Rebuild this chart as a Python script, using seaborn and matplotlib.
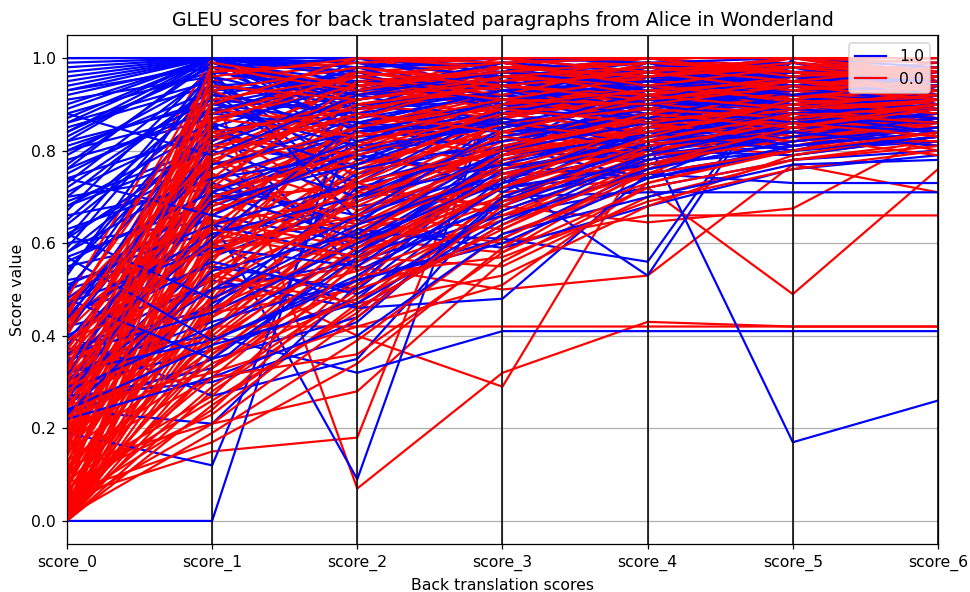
import pandas as pd
import matplotlib
matplotlib.use("Agg")
import matplotlib.pyplot as plt
import seaborn as sns
from matplotlib.lines import Line2D

score_names = ["score_0", "score_1", "score_2", "score_3", "score_4", "score_5", "score_6"]
class_labels = ["1.0", "0.0"]
class_colors = {"1.0": "blue", "0.0": "red"}

# class 1.0 paragraphs (score_0 .. score_6)
blue_scores = [
    (1.00, 1.00, 1.00, 0.97, 0.96, 0.98, 0.97),
    (1.00, 1.00, 0.96, 0.99, 1.00, 0.97, 0.98),
    (0.93, 1.00, 0.91, 0.95, 0.92, 0.96, 0.94),
    (0.92, 0.99, 0.97, 0.88, 0.95, 0.93, 0.96),
    (0.90, 1.00, 0.86, 0.93, 0.97, 0.99, 0.95),
    (0.88, 0.97, 0.93, 0.98, 0.90, 0.94, 0.92),
    (0.86, 1.00, 0.99, 0.91, 0.88, 0.95, 0.97),
    (0.85, 0.94, 0.82, 0.87, 0.93, 0.90, 0.91),
    (0.83, 0.99, 0.95, 0.96, 0.99, 0.97, 0.93),
    (0.81, 0.91, 0.88, 0.84, 0.86, 0.92, 0.89),
    (0.79, 0.96, 0.74, 0.90, 0.94, 0.88, 0.90),
    (0.78, 0.87, 0.92, 0.95, 0.91, 0.99, 0.96),
    (0.76, 1.00, 0.80, 0.83, 0.87, 0.91, 0.88),
    (0.74, 0.84, 0.90, 0.86, 0.82, 0.87, 0.86),
    (0.72, 0.93, 0.69, 0.79, 0.85, 0.84, 0.87),
    (0.70, 0.75, 0.62, 0.61, 0.56, 1.00, 0.97),
    (0.69, 0.81, 0.77, 0.92, 0.89, 0.93, 0.91),
    (0.67, 0.98, 0.85, 0.80, 0.96, 0.86, 0.94),
    (0.66, 0.72, 0.66, 0.76, 0.80, 0.83, 0.85),
    (0.64, 0.89, 0.94, 0.97, 0.93, 0.95, 0.90),
    (0.62, 0.78, 0.58, 0.74, 0.79, 0.81, 0.84),
    (0.60, 0.65, 0.09, 0.97, 0.95, 0.96, 0.97),
    (0.59, 0.95, 0.71, 0.88, 0.84, 0.89, 0.86),
    (0.57, 0.69, 0.83, 0.85, 0.91, 0.87, 0.92),
    (0.55, 0.62, 0.68, 0.72, 0.75, 0.73, 0.73),
    (0.54, 0.86, 0.54, 0.69, 0.77, 0.80, 0.83),
    (0.52, 0.58, 0.75, 0.82, 0.88, 0.92, 0.89),
    (0.50, 0.60, 0.46, 0.48, 0.75, 0.80, 0.82),
    (0.49, 0.92, 0.97, 0.94, 0.90, 0.98, 0.95),
    (0.47, 0.66, 0.60, 0.78, 0.83, 0.85, 0.87),
    (0.45, 0.55, 0.50, 0.74, 0.53, 1.00, 0.96),
    (0.44, 0.79, 0.89, 0.91, 0.86, 0.90, 0.88),
    (0.42, 0.50, 0.56, 0.66, 0.72, 0.78, 0.80),
    (0.40, 0.27, 0.35, 0.70, 0.71, 0.71, 0.71),
    (0.39, 0.73, 0.64, 0.87, 0.92, 0.88, 0.91),
    (0.37, 0.46, 0.72, 0.80, 0.78, 0.84, 0.86),
    (0.35, 0.40, 0.32, 0.41, 0.41, 0.41, 0.41),
    (0.34, 0.68, 0.79, 0.75, 0.81, 0.86, 0.84),
    (0.32, 0.43, 0.52, 0.61, 0.76, 0.82, 0.85),
    (0.31, 0.83, 0.91, 0.96, 0.98, 0.94, 0.96),
    (0.29, 0.37, 0.48, 0.73, 0.80, 0.79, 0.83),
    (0.28, 0.57, 0.69, 0.84, 0.87, 0.90, 0.88),
    (0.26, 0.33, 0.59, 0.77, 0.74, 0.87, 0.81),
    (0.25, 0.47, 0.63, 0.59, 0.68, 0.76, 0.79),
    (0.23, 0.35, 0.44, 0.69, 0.82, 0.85, 0.89),
    (0.19, 0.12, 0.86, 0.90, 0.92, 0.95, 0.93),
    (0.24, 0.21, 0.51, 0.78, 0.84, 0.88, 0.86),
    (0.00, 0.00, 0.95, 0.93, 0.95, 0.96, 0.94),
    (0.80, 0.88, 0.85, 0.86, 0.82, 0.17, 0.26),
    (0.95, 1.00, 0.98, 1.00, 0.97, 1.00, 0.99),
    (0.97, 1.00, 0.93, 0.97, 1.00, 0.96, 0.98),
    (0.84, 1.00, 0.96, 0.93, 0.91, 0.97, 0.95),
    (0.91, 0.96, 0.89, 0.99, 0.94, 0.92, 0.96),
    (0.82, 0.90, 0.96, 0.89, 0.96, 0.98, 0.92),
    (0.68, 0.85, 0.73, 0.81, 0.74, 0.80, 0.87),
    (0.58, 0.76, 0.87, 0.92, 0.89, 0.84, 0.90),
    (0.48, 0.70, 0.81, 0.71, 0.85, 0.93, 0.94),
    (0.36, 0.52, 0.46, 0.64, 0.79, 0.83, 0.82),
    (0.30, 0.64, 0.57, 0.81, 0.88, 0.86, 0.89),
    (0.27, 0.30, 0.40, 0.62, 0.70, 0.77, 0.78),
    (0.61, 0.82, 1.00, 0.98, 0.93, 0.95, 0.96),
    (0.75, 0.91, 0.78, 0.88, 0.99, 0.91, 0.94),
    (0.43, 0.88, 0.98, 0.99, 0.96, 0.97, 0.93),
    (0.33, 0.74, 0.84, 0.90, 0.94, 0.89, 0.92),
    (0.53, 0.97, 0.92, 0.86, 0.89, 0.94, 0.90),
    (0.99, 1.00, 0.97, 0.94, 0.98, 0.99, 0.96),
    (0.96, 1.00, 0.99, 0.96, 0.93, 0.95, 0.98),
    (0.94, 1.00, 0.90, 0.92, 0.96, 0.94, 0.91),
    (0.93, 0.98, 0.94, 0.97, 0.99, 0.93, 0.95),
    (0.89, 1.00, 0.98, 0.90, 0.95, 0.97, 0.94),
    (0.87, 1.00, 0.92, 0.94, 0.89, 0.92, 0.96),
    (0.86, 0.95, 0.87, 0.97, 0.93, 0.99, 0.93),
    (0.84, 0.98, 1.00, 0.93, 0.97, 0.96, 0.97),
    (0.82, 1.00, 0.84, 0.88, 0.91, 0.94, 0.90),
    (0.80, 0.93, 0.95, 0.91, 0.94, 0.90, 0.92),
    (0.77, 0.99, 0.89, 0.95, 0.86, 0.93, 0.95),
    (0.76, 0.89, 0.81, 0.85, 0.90, 0.96, 0.91),
    (0.73, 0.97, 0.93, 0.99, 0.97, 0.94, 0.96),
    (0.71, 0.86, 0.76, 0.82, 0.88, 0.89, 0.87),
    (0.70, 0.94, 0.96, 0.90, 0.83, 0.91, 0.93),
    (0.68, 0.80, 0.70, 0.77, 0.84, 0.86, 0.88),
    (0.65, 0.92, 0.88, 0.93, 0.95, 0.98, 0.94),
    (0.63, 0.74, 0.79, 0.87, 0.81, 0.85, 0.89),
    (0.61, 0.97, 0.65, 0.80, 0.92, 0.90, 0.86),
    (0.58, 0.83, 0.91, 0.96, 0.90, 0.93, 0.95),
    (0.56, 0.71, 0.61, 0.73, 0.86, 0.84, 0.90),
    (0.54, 0.90, 0.86, 0.84, 0.93, 0.96, 0.91),
    (0.51, 0.64, 0.73, 0.89, 0.87, 0.81, 0.85),
    (0.50, 0.85, 0.95, 0.92, 0.98, 0.95, 0.97),
    (0.47, 0.59, 0.55, 0.76, 0.82, 0.88, 0.84),
    (0.46, 0.77, 0.84, 0.86, 0.80, 0.91, 0.92),
    (0.44, 0.62, 0.70, 0.83, 0.89, 0.87, 0.86),
    (0.41, 0.81, 0.93, 0.95, 0.91, 0.97, 0.94),
    (0.40, 0.56, 0.49, 0.67, 0.78, 0.83, 0.87),
    (0.38, 0.69, 0.77, 0.88, 0.94, 0.90, 0.91),
    (0.36, 0.45, 0.60, 0.74, 0.84, 0.80, 0.83),
    (0.34, 0.61, 0.86, 0.93, 0.87, 0.94, 0.92),
    (0.32, 0.39, 0.53, 0.72, 0.77, 0.85, 0.88),
    (0.30, 0.50, 0.66, 0.85, 0.90, 0.86, 0.84),
    (0.28, 0.42, 0.58, 0.79, 0.83, 0.89, 0.87),
    (0.26, 0.71, 0.82, 0.91, 0.95, 0.92, 0.95),
    (0.24, 0.38, 0.47, 0.65, 0.76, 0.82, 0.85),
    (0.23, 0.54, 0.62, 0.80, 0.86, 0.88, 0.90),
    (0.22, 0.31, 0.43, 0.70, 0.81, 0.84, 0.81),
    (0.48, 0.35, 0.57, 0.68, 0.79, 0.86, 0.89),
    (0.62, 0.48, 0.64, 0.75, 0.83, 0.88, 0.86),
    (0.57, 0.39, 0.52, 0.60, 0.74, 0.81, 0.84),
    (0.74, 0.66, 0.80, 0.86, 0.91, 0.89, 0.93),
    (0.88, 0.79, 0.92, 0.97, 0.94, 0.96, 0.95),
    (0.98, 1.00, 1.00, 1.00, 0.99, 1.00, 0.98),
]

# class 0.0 paragraphs
red_scores = [
    (0.05, 0.42, 0.42, 0.42, 0.42, 0.42, 0.42),
    (0.10, 0.94, 0.07, 0.32, 0.43, 0.42, 0.42),
    (0.08, 0.55, 0.40, 0.29, 0.81, 0.85, 0.88),
    (0.05, 0.15, 0.18, 0.97, 0.92, 0.93, 0.90),
    (0.12, 0.21, 0.28, 0.56, 0.72, 0.49, 0.76),
    (0.20, 0.60, 0.65, 0.60, 0.66, 0.66, 0.66),
    (0.15, 0.50, 0.55, 0.50, 0.53, 0.77, 0.71),
    (0.25, 0.70, 0.72, 0.68, 0.645, 0.675, 0.84),
    (0.00, 0.36, 0.58, 0.74, 0.83, 0.86, 0.89),
    (0.00, 0.52, 0.77, 0.86, 0.80, 0.91, 0.87),
    (0.00, 0.28, 0.49, 0.66, 0.79, 0.82, 0.85),
    (0.00, 0.63, 0.90, 0.95, 0.92, 0.88, 0.93),
    (0.00, 0.44, 0.61, 0.58, 0.76, 0.84, 0.81),
    (0.02, 0.71, 0.84, 0.91, 0.96, 0.93, 0.90),
    (0.03, 0.33, 0.52, 0.79, 0.85, 0.87, 0.91),
    (0.04, 0.58, 0.69, 0.83, 0.88, 0.85, 0.86),
    (0.06, 0.47, 0.82, 0.88, 0.93, 0.95, 0.92),
    (0.07, 0.26, 0.45, 0.71, 0.74, 0.80, 0.83),
    (0.09, 0.81, 0.95, 0.90, 0.97, 0.92, 0.96),
    (0.10, 0.39, 0.63, 0.76, 0.81, 0.88, 0.85),
    (0.11, 0.67, 0.74, 0.94, 0.89, 0.96, 0.93),
    (0.13, 0.31, 0.57, 0.55, 0.70, 0.78, 0.82),
    (0.14, 0.76, 0.88, 0.85, 0.91, 0.89, 0.94),
    (0.16, 0.45, 0.50, 0.81, 0.77, 0.83, 0.87),
    (0.17, 0.88, 0.97, 0.99, 0.95, 0.98, 0.95),
    (0.18, 0.54, 0.71, 0.68, 0.84, 0.90, 0.88),
    (0.19, 0.35, 0.62, 0.73, 0.87, 0.81, 0.84),
    (0.21, 0.73, 0.93, 0.87, 0.94, 0.91, 0.97),
    (0.22, 0.62, 0.56, 0.77, 0.79, 0.86, 0.80),
    (0.23, 0.48, 0.80, 0.92, 0.86, 0.94, 0.91),
    (0.24, 0.84, 0.75, 0.89, 0.98, 0.93, 0.95),
    (0.26, 0.41, 0.66, 0.63, 0.78, 0.84, 0.86),
    (0.27, 0.95, 0.99, 0.96, 0.93, 0.97, 0.94),
    (0.28, 0.66, 0.86, 0.80, 0.90, 0.87, 0.92),
    (0.29, 0.53, 0.47, 0.70, 0.82, 0.79, 0.83),
    (0.31, 0.79, 0.91, 0.97, 0.99, 0.95, 0.98),
    (0.32, 0.69, 0.60, 0.84, 0.88, 0.92, 0.89),
    (0.33, 0.57, 0.78, 0.75, 0.76, 0.88, 0.85),
    (0.35, 0.86, 0.96, 0.93, 0.91, 0.99, 0.97),
    (0.36, 0.74, 0.83, 0.90, 0.95, 0.90, 0.93),
    (0.38, 0.64, 0.70, 0.86, 0.83, 0.87, 0.90),
    (0.40, 0.92, 0.88, 0.98, 0.96, 0.94, 0.96),
    (0.42, 0.82, 0.94, 0.89, 0.92, 0.97, 0.91),
    (0.44, 0.97, 1.00, 0.95, 0.98, 0.96, 0.99),
    (0.46, 0.89, 0.85, 0.92, 0.87, 0.93, 0.92),
    (0.48, 1.00, 0.92, 0.99, 0.94, 1.00, 0.95),
    (0.01, 0.19, 0.39, 0.62, 0.73, 0.81, 0.87),
    (0.04, 0.24, 0.53, 0.57, 0.69, 0.76, 0.80),
    (0.06, 0.17, 0.34, 0.59, 0.77, 0.83, 0.79),
    (0.08, 0.23, 0.47, 0.53, 0.68, 0.79, 0.84),
    (0.02, 0.38, 0.61, 0.84, 0.80, 0.86, 0.90),
    (0.11, 0.60, 0.88, 0.82, 0.85, 0.91, 0.86),
    (0.14, 0.85, 0.67, 0.78, 0.87, 0.85, 0.88),
    (0.16, 0.93, 0.81, 0.91, 0.93, 0.90, 0.94),
    (0.19, 0.77, 0.98, 0.94, 0.90, 0.95, 0.97),
    (0.22, 0.99, 0.90, 0.87, 0.97, 0.92, 0.93),
    (0.25, 0.32, 0.42, 0.51, 0.73, 0.80, 0.86),
    (0.30, 0.46, 0.54, 0.65, 0.80, 0.85, 0.81),
    (0.34, 0.61, 0.93, 1.00, 0.95, 0.99, 0.96),
    (0.37, 0.78, 0.68, 0.82, 0.89, 0.83, 0.90),
    (0.41, 0.71, 0.87, 0.95, 0.97, 0.94, 0.92),
    (0.45, 0.83, 0.79, 0.88, 0.84, 0.89, 0.87),
    (0.03, 0.49, 0.95, 0.97, 1.00, 0.98, 0.95),
    (0.07, 0.65, 0.59, 0.72, 0.86, 0.82, 0.85),
    (0.12, 0.90, 1.00, 0.98, 0.99, 0.96, 0.97),
    (0.18, 0.41, 0.73, 0.66, 0.75, 0.87, 0.83),
    (0.21, 0.56, 0.89, 0.93, 0.91, 0.97, 0.94),
    (0.27, 0.75, 0.64, 0.79, 0.92, 0.88, 0.91),
    (0.39, 0.52, 0.76, 0.87, 0.82, 0.92, 0.89),
    (0.43, 0.68, 0.82, 0.77, 0.88, 0.86, 0.90),
    (0.00, 0.41, 0.67, 0.81, 0.86, 0.90, 0.92),
    (0.00, 0.57, 0.74, 0.90, 0.94, 0.92, 0.95),
    (0.00, 0.33, 0.55, 0.72, 0.81, 0.85, 0.88),
    (0.00, 0.69, 0.85, 0.93, 0.89, 0.96, 0.91),
    (0.00, 0.48, 0.62, 0.77, 0.88, 0.83, 0.86),
    (0.00, 0.80, 0.92, 0.97, 0.95, 0.94, 0.97),
    (0.00, 0.25, 0.46, 0.64, 0.76, 0.86, 0.84),
    (0.01, 0.61, 0.79, 0.87, 0.92, 0.89, 0.93),
    (0.02, 0.45, 0.70, 0.80, 0.84, 0.91, 0.89),
    (0.03, 0.74, 0.97, 0.93, 0.98, 0.97, 0.94),
    (0.04, 0.36, 0.58, 0.69, 0.79, 0.82, 0.87),
    (0.05, 0.66, 0.81, 0.91, 0.87, 0.93, 0.90),
    (0.06, 0.53, 0.66, 0.85, 0.90, 0.88, 0.92),
    (0.07, 0.87, 0.94, 0.98, 0.96, 0.99, 0.96),
    (0.08, 0.40, 0.64, 0.74, 0.83, 0.87, 0.85),
    (0.09, 0.59, 0.86, 0.89, 0.93, 0.91, 0.94),
    (0.10, 0.72, 0.77, 0.84, 0.91, 0.95, 0.91),
    (0.11, 0.46, 0.60, 0.70, 0.80, 0.84, 0.88),
    (0.12, 0.83, 0.91, 0.95, 0.97, 0.93, 0.98),
    (0.13, 0.55, 0.73, 0.86, 0.82, 0.89, 0.86),
    (0.14, 0.64, 0.84, 0.79, 0.88, 0.92, 0.90),
    (0.15, 0.37, 0.51, 0.67, 0.78, 0.83, 0.82),
    (0.16, 0.78, 0.90, 0.94, 0.92, 0.96, 0.95),
    (0.17, 0.50, 0.69, 0.81, 0.87, 0.86, 0.91),
    (0.18, 0.91, 0.96, 0.92, 0.99, 0.97, 0.93),
    (0.19, 0.58, 0.64, 0.76, 0.85, 0.90, 0.87),
    (0.20, 0.44, 0.71, 0.83, 0.79, 0.88, 0.89),
    (0.21, 0.81, 0.87, 0.96, 0.94, 0.91, 0.96),
    (0.22, 0.67, 0.79, 0.88, 0.91, 0.94, 0.92),
    (0.23, 0.39, 0.59, 0.74, 0.86, 0.82, 0.85),
    (0.24, 0.72, 0.95, 0.91, 0.96, 0.98, 0.95),
    (0.25, 0.59, 0.66, 0.79, 0.84, 0.89, 0.91),
    (0.26, 0.87, 0.83, 0.90, 0.93, 0.95, 0.93),
    (0.28, 0.51, 0.74, 0.86, 0.89, 0.87, 0.90),
    (0.29, 0.76, 0.92, 0.97, 0.92, 0.96, 0.97),
    (0.31, 0.63, 0.57, 0.72, 0.83, 0.91, 0.88),
    (0.33, 0.93, 0.98, 0.95, 1.00, 0.97, 0.96),
    (0.35, 0.70, 0.80, 0.89, 0.86, 0.90, 0.92),
    (0.37, 0.84, 0.89, 0.94, 0.97, 0.93, 0.95),
    (0.39, 0.60, 0.73, 0.80, 0.88, 0.85, 0.89),
    (0.41, 0.88, 0.96, 0.99, 0.94, 0.98, 0.97),
    (0.43, 0.76, 0.85, 0.91, 0.90, 0.94, 0.91),
    (0.45, 0.94, 0.91, 0.96, 0.98, 0.95, 0.98),
    (0.47, 0.79, 0.88, 0.84, 0.92, 0.89, 0.93),
    (0.02, 0.29, 0.50, 0.61, 0.75, 0.80, 0.84),
    (0.03, 0.21, 0.44, 0.68, 0.81, 0.86, 0.83),
    (0.05, 0.31, 0.36, 0.58, 0.72, 0.78, 0.81),
    (0.09, 0.27, 0.56, 0.75, 0.82, 0.88, 0.86),
    (0.13, 0.34, 0.48, 0.63, 0.77, 0.85, 0.90),
    (0.06, 0.97, 0.99, 1.00, 0.97, 1.00, 0.99),
    (0.15, 0.99, 0.94, 0.97, 0.99, 0.98, 1.00),
    (0.20, 0.96, 1.00, 0.99, 1.00, 0.96, 0.98),
    (0.01, 0.86, 0.97, 0.94, 0.91, 0.95, 0.94),
    (0.32, 0.98, 0.93, 0.98, 0.96, 1.00, 0.97),
    (0.30, 0.90, 1.00, 1.00, 1.00, 1.00, 1.00),
]

# interleave the two classes in row order, like the original dataframe
rows = []
n = max(len(blue_scores), len(red_scores))
for i in range(n):
    if i < len(blue_scores):
        rows.append(("1.0", blue_scores[i]))
    if i < len(red_scores):
        rows.append(("0.0", red_scores[i]))

records = []
for row_id, (label, vals) in enumerate(rows):
    for pos, v in enumerate(vals):
        records.append({"row": f"r{row_id:03d}", "label": label, "pos": pos, "value": v})
df = pd.DataFrame(records)

row_order = [f"r{i:03d}" for i in range(len(rows))]
row_palette = {f"r{i:03d}": class_colors[lab] for i, (lab, _) in enumerate(rows)}

fig, ax = plt.subplots(figsize=(970 / 113, 592 / 113), dpi=113)
fig.subplots_adjust(left=0.069, right=0.967, bottom=0.081, top=0.941)

sns.lineplot(data=df, x="pos", y="value", hue="row", hue_order=row_order,
             palette=row_palette, estimator=None, sort=False, legend=False,
             linewidth=1.4, ax=ax)

for pos in range(len(score_names)):
    ax.axvline(pos, linewidth=1, color="black")

ax.set_xticks(range(len(score_names)))
ax.set_xticklabels(score_names)
ax.set_xlim(0, len(score_names) - 1)
ax.set_ylim(-0.05, 1.05)
ax.grid(True)

handles = [Line2D([], [], color=class_colors[c], linewidth=1.4) for c in class_labels]
ax.legend(handles, class_labels, loc="upper right")

ax.set_title("GLEU scores for back translated paragraphs from Alice in Wonderland", fontsize=12)
ax.set_xlabel("Back translation scores")
ax.set_ylabel("Score value")

plt.savefig("out.png")
plt.close()
